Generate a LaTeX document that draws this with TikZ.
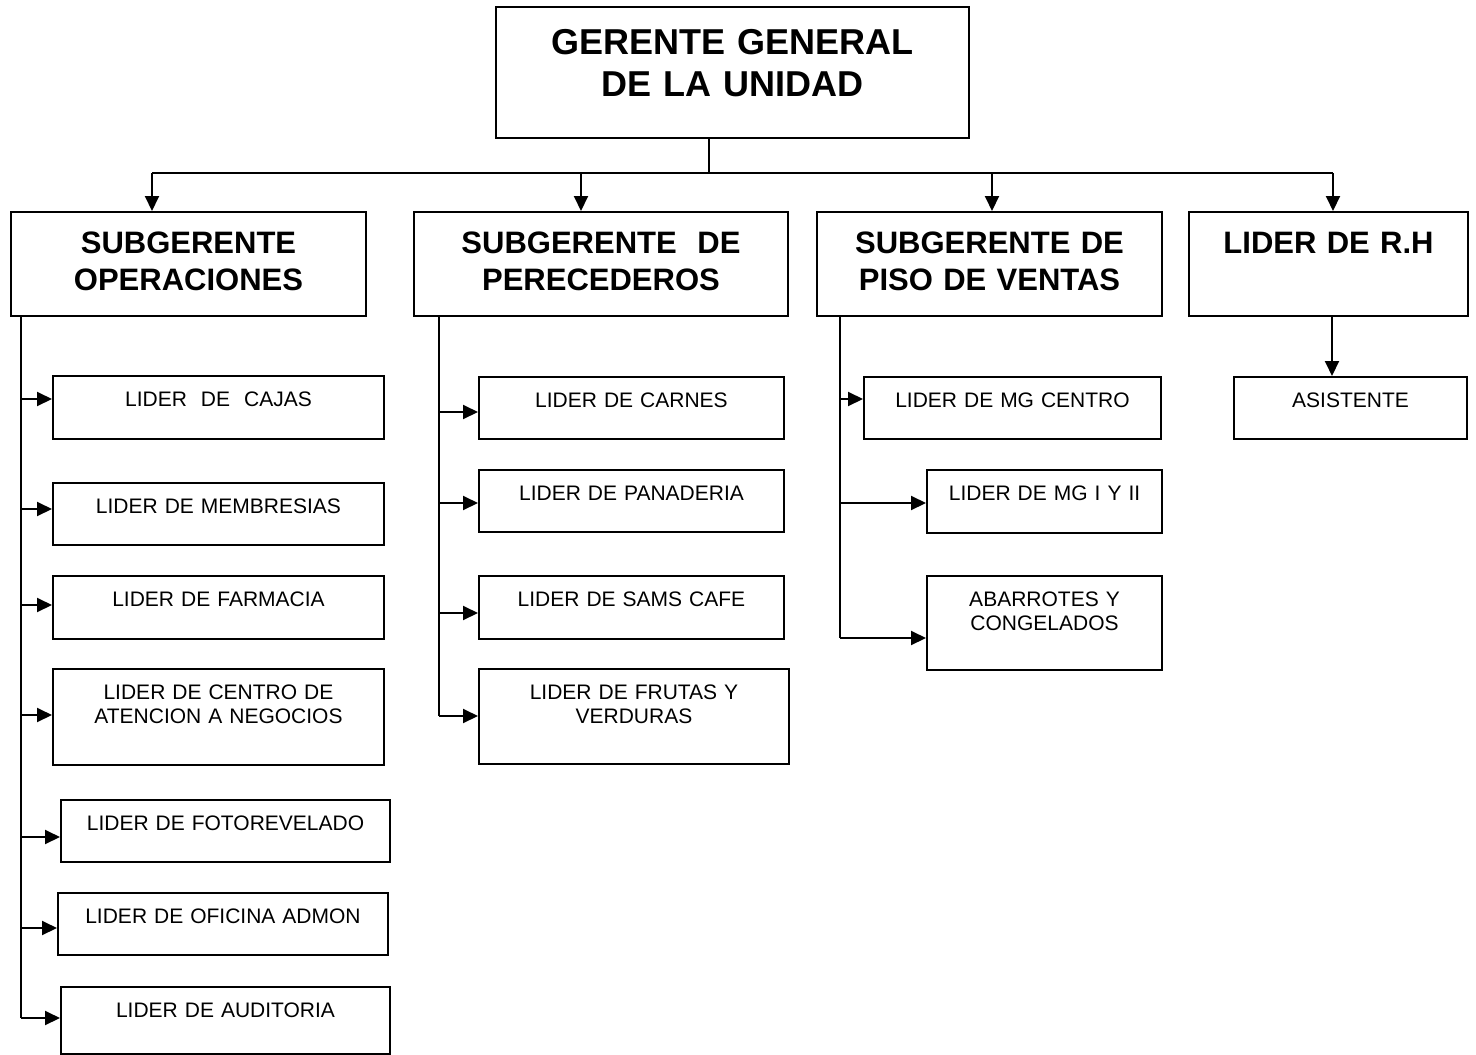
\documentclass[tikz,border=0pt]{standalone}
\usepackage{fontspec}
\setmainfont{Liberation Sans}
\usetikzlibrary{arrows.meta}

\tikzset{
  caja/.style={draw, line width=2pt, anchor=north west, inner sep=0pt, align=center,
    font=\fontsize{21}{24}\selectfont, text height=30pt},
  jefe/.style={caja, font=\fontsize{31}{37}\selectfont\bfseries, text height=41pt, text depth=63pt},
  linea/.style={line width=2pt},
  flecha/.style={line width=2pt, -{Triangle[length=15pt,width=14pt]}}
}

\begin{document}
\begin{tikzpicture}[x=1pt,y=-1pt]
\useasboundingbox (0,0) rectangle (1476,1055);

% gerente
\node[caja, font=\fontsize{36}{42}\selectfont\bfseries, text width=473pt, text height=47pt, text depth=84pt]
  (gg) at (495,6) {GERENTE GENERAL\\DE LA UNIDAD};

% subgerentes
\node[jefe, text width=355pt] (so) at (10,211) {SUBGERENTE\\OPERACIONES};
\node[jefe, text width=374pt] (sp) at (413,211) {SUBGERENTE\ \ DE\\PERECEDEROS};
\node[jefe, text width=345pt] (sv) at (816,211) {SUBGERENTE DE\\PISO DE VENTAS};
\node[jefe, text width=279pt] (rh) at (1188,211) {LIDER DE R.H};

% operaciones
\node[caja, text width=331pt, text depth=33pt] (cajas) at (52,375) {LIDER\ \ DE\ \ CAJAS};
\node[caja, text width=331pt, text depth=32pt] (membresias) at (52,482) {LIDER DE MEMBRESIAS};
\node[caja, text width=331pt, text depth=33pt] (farmacia) at (52,575) {LIDER DE FARMACIA};
\node[caja, text width=331pt, text depth=66pt] (centro) at (52,668) {LIDER DE CENTRO DE\\ATENCION A NEGOCIOS};
\node[caja, text width=329pt, text depth=32pt] (foto) at (60,799) {LIDER DE FOTOREVELADO};
\node[caja, text width=330pt, text depth=32pt] (oficina) at (57,892) {LIDER DE OFICINA ADMON};
\node[caja, text width=329pt, text depth=37pt] (auditoria) at (60,986) {LIDER DE AUDITORIA};

% perecederos
\node[caja, text width=305pt, text depth=32pt] (carnes) at (478,376) {LIDER DE CARNES};
\node[caja, text width=305pt, text depth=32pt] (panaderia) at (478,469) {LIDER DE PANADERIA};
\node[caja, text width=305pt, text depth=33pt] (samscafe) at (478,575) {LIDER DE SAMS CAFE};
\node[caja, text width=310pt, text depth=65pt] (frutas) at (478,668) {LIDER DE FRUTAS Y\\VERDURAS};

% piso de ventas
\node[caja, text width=297pt, text depth=32pt] (mgcentro) at (863,376) {LIDER DE MG CENTRO};
\node[caja, text width=235pt, text depth=33pt] (mgiyii) at (926,469) {LIDER DE MG I Y II};
\node[caja, text width=235pt, text depth=64pt] (abarrotes) at (926,575) {ABARROTES Y\\CONGELADOS};

% r.h
\node[caja, text width=233pt, text depth=32pt] (asistente) at (1233,376) {ASISTENTE};

% gerente -> subgerentes
\coordinate (barra) at (709,173);
\draw[linea] (gg.south -| barra) -- (barra);
\draw[linea] (152,173) -- (1333,173);
\foreach \n/\x in {so/152, sp/581, sv/992, rh/1333}{
  \draw[flecha] (barra -| \x,0) -- (\n.north -| \x,0);
}

% troncos
\coordinate (opT) at (21,1018);
\coordinate (peT) at (439,716);
\coordinate (pvT) at (840,638);
\draw[linea] (so.south -| opT) -- (opT);
\draw[linea] (sp.south -| peT) -- (peT);
\draw[linea] (sv.south -| pvT) -- (pvT);

\foreach \n/\y in {cajas/399, membresias/509, farmacia/605, centro/715, foto/837, oficina/928, auditoria/1018}{
  \draw[flecha] (opT |- 0,\y) -- (\n.west |- 0,\y);
}
\foreach \n/\y in {carnes/412, panaderia/503, samscafe/613, frutas/716}{
  \draw[flecha] (peT |- 0,\y) -- (\n.west |- 0,\y);
}
\foreach \n/\y in {mgcentro/399, mgiyii/503, abarrotes/638}{
  \draw[flecha] (pvT |- 0,\y) -- (\n.west |- 0,\y);
}
\draw[flecha] (rh.south -| 1332,0) -- (asistente.north -| 1332,0);

\end{tikzpicture}
\end{document}
